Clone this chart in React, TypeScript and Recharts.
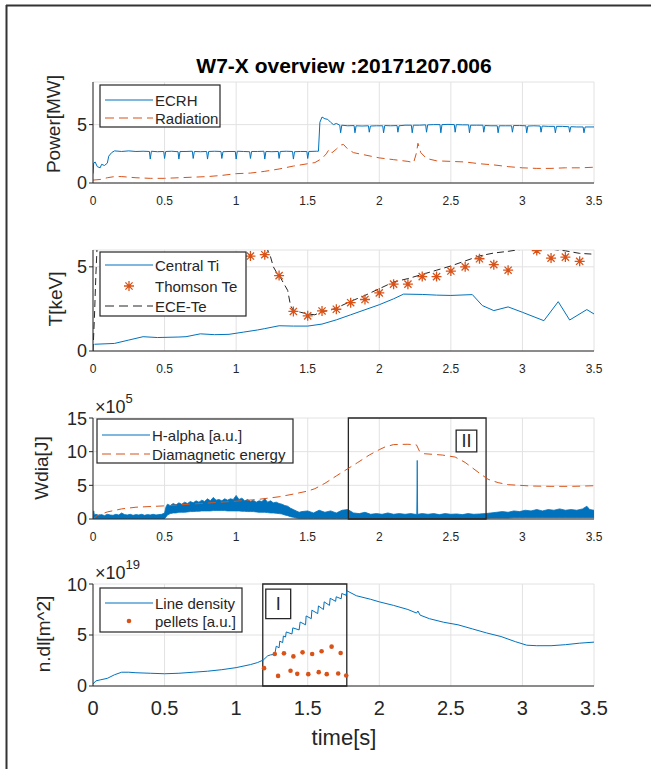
import React from 'react';
import {
  ComposedChart,
  Line,
  Area,
  Scatter,
  XAxis,
  YAxis,
  CartesianGrid,
  ReferenceArea,
} from 'recharts';

// ---------------------------------------------------------------------------
// Shot 20171207.006 overview signals (time in s)
// ---------------------------------------------------------------------------

const timeTicks = [0, 0.5, 1, 1.5, 2, 2.5, 3, 3.5];

// Heating power [MW]
const ecrh: [number, number][] = [
  [0, 0.8], [0.005, 1.7], [0.015, 1.8], [0.03, 1.4], [0.05, 1.3], [0.06, 1.6], [0.08, 1.5], [0.1, 1.7],
  [0.11, 2.3], [0.13, 2.6], [0.15, 2.75], [0.2, 2.7], [0.25, 2.75], [0.3, 2.7], [0.35, 2.72],
  [0.394, 2.7], [0.4, 2.05], [0.408, 2.72], [0.45, 2.68],
  [0.494, 2.7], [0.5, 2.1], [0.508, 2.7], [0.55, 2.72],
  [0.594, 2.68], [0.6, 2.05], [0.608, 2.7], [0.65, 2.7],
  [0.694, 2.72], [0.7, 2.1], [0.708, 2.7], [0.75, 2.68],
  [0.794, 2.7], [0.8, 2.05], [0.808, 2.7], [0.85, 2.72],
  [0.894, 2.7], [0.9, 2.1], [0.908, 2.68], [0.95, 2.7],
  [0.994, 2.7], [1.0, 2.05], [1.008, 2.72], [1.05, 2.7],
  [1.094, 2.68], [1.1, 2.1], [1.108, 2.7], [1.15, 2.7],
  [1.194, 2.72], [1.2, 2.05], [1.208, 2.7], [1.25, 2.68],
  [1.294, 2.7], [1.3, 2.1], [1.308, 2.7], [1.35, 2.72],
  [1.394, 2.7], [1.4, 2.05], [1.408, 2.68], [1.45, 2.7],
  [1.494, 2.7], [1.5, 2.1], [1.508, 2.7], [1.56, 2.72],
  [1.575, 2.72], [1.585, 5.2], [1.6, 5.65], [1.62, 5.5], [1.64, 5.45], [1.66, 5.2], [1.68, 5.0], [1.7, 5.1],
  [1.724, 4.95], [1.73, 4.3], [1.738, 4.95], [1.78, 4.9],
  [1.824, 4.92], [1.83, 4.3], [1.838, 4.9], [1.88, 4.88],
  [1.924, 4.9], [1.93, 4.35], [1.938, 4.88], [1.98, 4.9],
  [2.024, 4.9], [2.03, 4.3], [2.038, 4.92], [2.08, 4.9],
  [2.124, 4.92], [2.13, 4.35], [2.138, 4.9], [2.18, 4.95],
  [2.224, 4.95], [2.23, 4.3], [2.238, 4.95], [2.28, 4.95],
  [2.324, 4.98], [2.33, 4.35], [2.338, 4.98], [2.38, 5.0],
  [2.424, 5.0], [2.43, 4.3], [2.438, 5.0], [2.48, 5.02],
  [2.524, 5.0], [2.53, 4.35], [2.538, 5.0], [2.58, 4.98],
  [2.624, 4.98], [2.63, 4.3], [2.638, 4.95], [2.68, 4.95],
  [2.724, 4.95], [2.73, 4.35], [2.738, 4.92], [2.78, 4.9],
  [2.824, 4.9], [2.83, 4.3], [2.838, 4.9], [2.88, 4.9],
  [2.924, 4.9], [2.93, 4.35], [2.938, 4.92], [2.98, 4.92],
  [3.024, 4.9], [3.03, 4.3], [3.038, 4.88], [3.08, 4.9],
  [3.124, 4.88], [3.13, 4.35], [3.138, 4.88], [3.18, 4.85],
  [3.224, 4.85], [3.23, 4.3], [3.238, 4.85], [3.28, 4.85],
  [3.324, 4.82], [3.33, 4.35], [3.338, 4.82], [3.38, 4.8],
  [3.424, 4.8], [3.43, 4.3], [3.438, 4.8], [3.5, 4.8],
];

const radiation: [number, number][] = [
  [0, 0.25], [0.05, 0.3], [0.1, 0.45], [0.15, 0.55], [0.2, 0.55], [0.3, 0.45], [0.4, 0.4], [0.5, 0.4],
  [0.6, 0.45], [0.7, 0.5], [0.8, 0.55], [0.9, 0.65], [1.0, 0.8], [1.1, 0.85], [1.2, 1.0], [1.3, 1.2],
  [1.4, 1.45], [1.5, 1.65], [1.55, 1.75], [1.6, 2.1], [1.63, 2.5], [1.65, 2.9], [1.67, 2.6], [1.7, 2.9],
  [1.73, 3.25], [1.75, 3.3], [1.78, 2.9], [1.82, 2.6], [1.9, 2.4], [2.0, 2.15], [2.1, 2.0], [2.2, 1.85],
  [2.24, 1.75], [2.26, 2.6], [2.27, 3.4], [2.29, 2.6], [2.33, 2.1], [2.4, 1.9], [2.5, 1.85], [2.6, 1.8],
  [2.7, 1.65], [2.8, 1.55], [2.9, 1.4], [3.0, 1.3], [3.1, 1.25], [3.2, 1.25], [3.3, 1.3], [3.4, 1.3], [3.5, 1.35],
];

// Temperatures [keV]
const centralTi: [number, number][] = [
  [0.01, 0.4], [0.15, 0.45], [0.25, 0.65], [0.35, 0.85], [0.45, 0.8], [0.6, 0.83], [0.65, 0.85],
  [0.75, 1.02], [0.85, 0.97], [0.95, 0.99], [1.05, 1.12], [1.15, 1.25], [1.2, 1.33], [1.3, 1.5],
  [1.4, 1.48], [1.5, 1.48], [1.6, 1.6], [1.7, 1.85], [1.8, 2.15], [1.9, 2.45], [2.0, 2.75],
  [2.1, 3.1], [2.17, 3.38], [2.3, 3.36], [2.4, 3.32], [2.5, 3.3], [2.65, 3.35], [2.72, 2.7],
  [2.8, 2.4], [2.9, 2.62], [3.0, 2.3], [3.15, 1.8], [3.25, 2.93], [3.33, 1.84], [3.45, 2.46], [3.5, 2.2],
];

const thomsonTe: [number, number][] = [
  [1.1, 5.64], [1.2, 5.72], [1.3, 4.48], [1.4, 2.35], [1.5, 2.09], [1.6, 2.38], [1.7, 2.48],
  [1.8, 2.87], [1.9, 3.06], [2.0, 3.45], [2.1, 3.97], [2.2, 3.97], [2.3, 4.42], [2.4, 4.42],
  [2.5, 4.75], [2.6, 5.0], [2.7, 5.48], [2.8, 5.13], [2.9, 4.8], [3.1, 5.97], [3.2, 5.52],
  [3.3, 5.58], [3.4, 5.33],
];

const eceTe: [number, number][] = [
  [0.0, 0.0], [0.01, 2.0], [0.02, 4.5], [0.03, 6.5], [0.1, 7.0], [0.5, 7.0], [1.0, 7.0], [1.2, 6.5],
  [1.22, 6.0], [1.24, 5.6], [1.26, 5.0], [1.28, 4.7], [1.3, 4.5], [1.32, 4.2], [1.34, 3.9], [1.36, 3.6],
  [1.38, 2.7], [1.4, 2.4], [1.45, 2.3], [1.5, 2.2], [1.55, 2.15], [1.6, 2.35], [1.65, 2.4], [1.7, 2.55],
  [1.8, 2.95], [1.9, 3.3], [2.0, 3.7], [2.1, 4.1], [2.2, 4.3], [2.3, 4.55], [2.4, 4.8], [2.5, 5.05],
  [2.6, 5.35], [2.7, 5.65], [2.8, 5.82], [2.9, 5.92], [3.0, 6.05], [3.1, 6.1], [3.2, 6.05], [3.3, 5.95],
  [3.4, 5.8], [3.5, 5.75],
];

// H-alpha envelope [time, lower, upper] and diamagnetic energy, both in units of 1e5
const hAlpha: [number, number, number][] = [
  [0, 0.05, 0.3], [0.005, 0.05, 1.2], [0.01, 0.05, 0.6], [0.02, 0.05, 0.7], [0.04, 0.05, 0.55],
  [0.06, 0.05, 0.65], [0.08, 0.05, 0.5], [0.1, 0.05, 0.7], [0.12, 0.05, 0.6], [0.14, 0.05, 0.55],
  [0.16, 0.05, 0.7], [0.18, 0.05, 0.6], [0.2, 0.05, 0.9], [0.22, 0.05, 0.65], [0.24, 0.05, 0.6],
  [0.26, 0.05, 0.7], [0.28, 0.05, 0.55], [0.3, 0.05, 0.65], [0.32, 0.05, 0.6], [0.34, 0.05, 0.7],
  [0.36, 0.05, 0.55], [0.38, 0.05, 0.65], [0.4, 0.05, 0.6], [0.42, 0.05, 0.7], [0.44, 0.05, 0.6],
  [0.46, 0.05, 0.65], [0.48, 0.05, 0.7], [0.5, 0.05, 0.9],
  [0.51, 0.3, 1.8], [0.52, 0.6, 2.2], [0.54, 0.8, 2.0], [0.56, 0.9, 2.3], [0.58, 0.9, 2.1],
  [0.6, 1.0, 2.4], [0.62, 1.0, 2.2], [0.64, 1.0, 2.5], [0.66, 1.05, 2.3], [0.68, 1.1, 2.6],
  [0.7, 1.1, 2.4], [0.72, 1.15, 2.7], [0.74, 1.15, 2.5], [0.76, 1.2, 2.8], [0.78, 1.2, 2.6],
  [0.8, 1.2, 3.0], [0.82, 1.2, 2.7], [0.84, 1.25, 3.2], [0.86, 1.25, 2.8], [0.88, 1.25, 2.9],
  [0.9, 1.25, 2.7], [0.92, 1.25, 3.0], [0.94, 1.2, 2.8], [0.96, 1.2, 3.0], [0.98, 1.2, 2.9],
  [1.0, 1.2, 3.5], [1.02, 1.2, 2.9], [1.04, 1.15, 3.1], [1.06, 1.15, 2.7], [1.08, 1.1, 2.9],
  [1.1, 1.1, 2.6], [1.12, 1.1, 2.8], [1.14, 1.05, 2.5], [1.16, 1.0, 2.7], [1.18, 1.0, 2.6],
  [1.2, 1.0, 3.0], [1.22, 0.95, 2.5], [1.24, 0.9, 2.7], [1.26, 0.9, 2.4], [1.28, 0.85, 2.5],
  [1.3, 0.8, 2.3], [1.32, 0.75, 2.2], [1.34, 0.6, 2.0], [1.36, 0.5, 1.9], [1.38, 0.35, 1.6],
  [1.4, 0.25, 1.4], [1.42, 0.15, 1.2], [1.44, 0.1, 1.0], [1.46, 0.1, 1.1],
  [1.5, 0.1, 1.2], [1.54, 0.1, 0.9], [1.58, 0.1, 1.3], [1.62, 0.1, 1.0], [1.66, 0.1, 1.2],
  [1.7, 0.1, 0.9], [1.74, 0.1, 1.3], [1.78, 0.1, 1.4], [1.82, 0.1, 0.9], [1.86, 0.1, 0.8],
  [1.9, 0.1, 1.0], [1.94, 0.1, 0.7], [1.98, 0.1, 0.8], [2.02, 0.1, 0.7], [2.06, 0.1, 0.9],
  [2.1, 0.1, 0.7], [2.14, 0.1, 0.8], [2.18, 0.1, 0.7], [2.22, 0.1, 0.8], [2.25, 0.1, 0.7],
  [2.262, 0.1, 0.7], [2.265, 0.1, 8.7], [2.268, 0.1, 0.7], [2.3, 0.1, 0.8], [2.34, 0.1, 0.7],
  [2.38, 0.1, 0.8], [2.42, 0.1, 0.65], [2.46, 0.1, 0.8], [2.5, 0.1, 0.7], [2.54, 0.1, 0.75],
  [2.58, 0.1, 0.65], [2.62, 0.1, 0.8], [2.66, 0.1, 0.7], [2.7, 0.1, 0.75], [2.74, 0.1, 0.8],
  [2.78, 0.15, 0.9], [2.82, 0.15, 1.0], [2.86, 0.15, 1.1], [2.9, 0.15, 1.0], [2.94, 0.2, 1.2],
  [2.98, 0.2, 1.1], [3.02, 0.2, 1.3], [3.06, 0.2, 1.2], [3.1, 0.2, 1.4], [3.14, 0.2, 1.2],
  [3.18, 0.2, 1.4], [3.22, 0.2, 1.3], [3.26, 0.2, 1.5], [3.3, 0.2, 1.3], [3.34, 0.2, 1.4],
  [3.38, 0.2, 1.3], [3.42, 0.2, 1.5], [3.45, 0.2, 1.9], [3.47, 0.2, 1.4], [3.5, 0.2, 1.3],
];

const diamagnetic: [number, number][] = [
  [0, 0.05], [0.03, 0.5], [0.1, 1.05], [0.2, 1.5], [0.3, 1.75], [0.5, 1.95], [0.75, 2.3], [1.0, 2.65],
  [1.15, 2.9], [1.3, 3.3], [1.4, 3.7], [1.5, 4.15], [1.55, 4.5], [1.62, 5.3], [1.7, 6.4], [1.76, 7.2],
  [1.85, 8.4], [1.93, 9.5], [2.0, 10.3], [2.04, 10.7], [2.1, 11.05], [2.2, 11.1], [2.26, 11.0],
  [2.28, 10.1], [2.31, 9.7], [2.44, 9.5], [2.53, 9.2], [2.6, 8.4], [2.65, 7.6], [2.7, 6.8],
  [2.76, 5.9], [2.83, 5.4], [2.9, 5.1], [3.06, 4.9], [3.2, 4.85], [3.35, 4.85], [3.5, 4.94],
];

// Line-integrated density [1e19 m^-2] and pellet monitor
const lineDensity: [number, number][] = [
  [0, 0.2], [0.02, 0.5], [0.05, 0.6], [0.1, 0.75], [0.15, 1.1], [0.2, 1.35], [0.25, 1.35], [0.3, 1.3],
  [0.4, 1.25], [0.5, 1.2], [0.6, 1.25], [0.7, 1.35], [0.8, 1.45], [0.9, 1.6], [1.0, 1.8], [1.1, 2.1],
  [1.15, 2.3], [1.19, 2.55], [1.22, 2.95], [1.24, 3.05], [1.27, 3.1], [1.28, 3.9], [1.3, 3.75],
  [1.305, 4.4], [1.325, 4.25], [1.33, 4.9], [1.345, 4.8], [1.35, 5.3], [1.39, 5.1], [1.396, 5.7],
  [1.44, 5.5], [1.447, 6.27], [1.485, 6.0], [1.489, 6.87], [1.525, 6.6], [1.529, 7.43], [1.57, 7.1],
  [1.575, 7.85], [1.61, 7.5], [1.615, 8.25], [1.652, 7.9], [1.657, 8.6], [1.695, 8.3], [1.699, 8.75],
  [1.734, 8.55], [1.738, 9.07], [1.768, 8.9], [1.773, 9.34], [1.84, 8.85], [1.94, 8.5], [2.0, 8.25],
  [2.1, 7.9], [2.2, 7.5], [2.26, 7.15], [2.27, 7.35], [2.285, 6.95], [2.35, 6.6], [2.45, 6.25],
  [2.55, 6.0], [2.65, 5.6], [2.75, 5.2], [2.85, 4.85], [2.95, 4.35], [3.03, 4.0], [3.1, 3.95],
  [3.2, 3.95], [3.3, 4.05], [3.4, 4.2], [3.5, 4.3],
];

const pellets: [number, number][] = [
  [1.195, 1.75], [1.27, 3.13], [1.334, 3.2], [1.4, 2.9], [1.464, 3.3], [1.531, 3.13], [1.597, 3.4],
  [1.667, 3.86], [1.73, 3.23],
  [1.293, 0.99], [1.38, 1.49], [1.427, 1.19], [1.504, 1.16], [1.577, 1.36], [1.633, 1.16],
  [1.713, 1.22], [1.769, 1.03],
];

// ---------------------------------------------------------------------------

const BLUE = '#0072BD';
const ORANGE = '#D95319';
const AXIS = '#262626';
const GRID = '#e2e2e2';
const FONT = '"Liberation Sans", Arial, Helvetica, sans-serif';

const W = 651;
const PLOT_LEFT = 93;
const PLOT_RIGHT = 594;

const pts = (arr: [number, number][]) => arr.map(([t, v]) => ({ t, v }));
const bandPts = (arr: [number, number, number][]) => arr.map(([t, lo, hi]) => ({ t, band: [lo, hi] }));

const Asterisk = (props: any) => {
  const { cx, cy } = props;
  if (cx == null || cy == null) return null;
  const r = 5;
  const d = r * 0.72;
  return (
    <path
      d={`M${cx - r},${cy}H${cx + r}M${cx},${cy - r}V${cy + r}M${cx - d},${cy - d}L${cx + d},${cy + d}M${cx - d},${cy + d}L${cx + d},${cy - d}`}
      stroke={ORANGE}
      strokeWidth={1.3}
      fill="none"
    />
  );
};

const Dot = (props: any) => {
  const { cx, cy } = props;
  if (cx == null || cy == null) return null;
  return <circle cx={cx} cy={cy} r={2.3} fill={ORANGE} />;
};

type PanelProps = {
  plotTop: number;
  plotBottom: number;
  yDomain: [number, number];
  yTicks: number[];
  xTickFont: number;
  xTickMargin: number;
  children: React.ReactNode;
};

function Panel({ plotTop, plotBottom, yDomain, yTicks, xTickFont, xTickMargin, children }: PanelProps) {
  const mTop = 10;
  const xH = 40;
  const plotH = plotBottom - plotTop;
  return (
    <div style={{ position: 'absolute', left: 0, top: plotTop - mTop }}>
      <ComposedChart
        width={W}
        height={plotH + mTop + xH}
        margin={{ top: mTop, right: W - PLOT_RIGHT, bottom: 0, left: 0 }}
      >
        <CartesianGrid stroke={GRID} strokeWidth={1} />
        <XAxis
          type="number"
          dataKey="t"
          domain={[0, 3.5]}
          ticks={timeTicks}
          allowDataOverflow
          height={xH}
          tickSize={0}
          tickMargin={xTickMargin}
          tickLine={false}
          axisLine={{ stroke: AXIS, strokeWidth: 1 }}
          tick={{ fill: AXIS, fontSize: xTickFont, fontFamily: FONT }}
        />
        <XAxis
          xAxisId="box"
          orientation="top"
          type="number"
          domain={[0, 3.5]}
          ticks={timeTicks}
          height={0}
          tick={false}
          tickLine={false}
          axisLine={{ stroke: AXIS, strokeWidth: 1 }}
        />
        <YAxis
          type="number"
          domain={yDomain}
          ticks={yTicks}
          allowDataOverflow
          width={PLOT_LEFT}
          tickSize={4}
          tickMargin={2}
          tickLine={{ stroke: AXIS }}
          axisLine={{ stroke: AXIS, strokeWidth: 1 }}
          tick={{ fill: AXIS, fontSize: 18, fontFamily: FONT }}
        />
        <YAxis
          yAxisId="box"
          orientation="right"
          type="number"
          domain={yDomain}
          width={0}
          tick={false}
          tickLine={false}
          axisLine={{ stroke: AXIS, strokeWidth: 1 }}
        />
        {children}
      </ComposedChart>
    </div>
  );
}

type LegendRow = { label: string; kind: 'line' | 'dash' | 'blackdash' | 'star' | 'dot'; cy: number };

function LegendBox({ x, y, w, h, rows }: { x: number; y: number; w: number; h: number; rows: LegendRow[] }) {
  const s0 = x + 5;
  const s1 = x + 53;
  const sc = (s0 + s1) / 2;
  return (
    <g>
      <rect x={x} y={y} width={w} height={h} fill="#fff" stroke={AXIS} strokeWidth={1.2} />
      {rows.map((r) => (
        <g key={r.label}>
          {r.kind === 'line' && <line x1={s0} x2={s1} y1={r.cy} y2={r.cy} stroke={BLUE} strokeWidth={1.2} />}
          {r.kind === 'dash' && (
            <line x1={s0} x2={s1} y1={r.cy} y2={r.cy} stroke={ORANGE} strokeWidth={1.2} strokeDasharray="9 5" />
          )}
          {r.kind === 'blackdash' && (
            <line x1={s0} x2={s1} y1={r.cy} y2={r.cy} stroke={AXIS} strokeWidth={1.2} strokeDasharray="9 5" />
          )}
          {r.kind === 'star' && <Asterisk cx={sc} cy={r.cy} />}
          {r.kind === 'dot' && <circle cx={sc} cy={r.cy} r={2.3} fill={ORANGE} />}
          <text x={x + 55} y={r.cy} dominantBaseline="central" fontSize={15} fill={AXIS} fontFamily={FONT}>
            {r.label}
          </text>
        </g>
      ))}
    </g>
  );
}

function YLabel({ x, y, text }: { x: number; y: number; text: string }) {
  return (
    <text
      x={x}
      y={y}
      transform={`rotate(-90 ${x} ${y})`}
      textAnchor="middle"
      dominantBaseline="central"
      fontSize={19}
      fill={AXIS}
      fontFamily={FONT}
    >
      {text}
    </text>
  );
}

function Exponent({ x, y, exp }: { x: number; y: number; exp: string }) {
  return (
    <text x={x} y={y} fontSize={18} fill={AXIS} fontFamily={FONT}>
      ×10
      <tspan dy={-10} fontSize={13}>
        {exp}
      </tspan>
    </text>
  );
}

export default function App() {
  const boxStroke = { stroke: AXIS, strokeWidth: 1.3 };
  return (
    <div style={{ position: 'absolute', left: 0, top: 0, width: W, height: 769, background: '#fff', fontFamily: FONT }}>
      {/* Power */}
      <Panel plotTop={82} plotBottom={183} yDomain={[0, 8.65]} yTicks={[0, 5]} xTickFont={12} xTickMargin={13}>
        <Line data={pts(radiation)} dataKey="v" stroke={ORANGE} strokeWidth={1} strokeDasharray="8 5" dot={false} isAnimationActive={false} type="linear" />
        <Line data={pts(ecrh)} dataKey="v" stroke={BLUE} strokeWidth={1} dot={false} isAnimationActive={false} type="linear" />
      </Panel>

      {/* Temperatures */}
      <Panel plotTop={250} plotBottom={351} yDomain={[0, 6]} yTicks={[0, 5]} xTickFont={12} xTickMargin={13}>
        <Line data={pts(centralTi)} dataKey="v" stroke={BLUE} strokeWidth={1} dot={false} isAnimationActive={false} type="linear" />
        <Line data={pts(eceTe)} dataKey="v" stroke={AXIS} strokeWidth={1} strokeDasharray="7 4" dot={false} isAnimationActive={false} type="linear" />
        <Scatter data={pts(thomsonTe)} dataKey="v" shape={Asterisk} isAnimationActive={false} />
      </Panel>

      {/* Stored energy and H-alpha */}
      <Panel plotTop={418} plotBottom={519} yDomain={[0, 15]} yTicks={[0, 5, 10, 15]} xTickFont={12} xTickMargin={13}>
        <Area data={bandPts(hAlpha)} dataKey="band" stroke={BLUE} strokeWidth={0.8} fill={BLUE} fillOpacity={1} dot={false} isAnimationActive={false} type="linear" />
        <Line data={pts(diamagnetic)} dataKey="v" stroke={ORANGE} strokeWidth={1} strokeDasharray="8 5" dot={false} isAnimationActive={false} type="linear" />
        <ReferenceArea x1={1.784} x2={2.746} y1={0} y2={15} fill="none" fillOpacity={0} {...boxStroke} />
        <ReferenceArea
          x1={2.537}
          x2={2.681}
          y1={9.97}
          y2={13.2}
          fill="#fff"
          fillOpacity={1}
          {...boxStroke}
          label={{ value: 'II', position: 'center', fontSize: 18, fill: AXIS, fontFamily: FONT }}
        />
      </Panel>

      {/* Density */}
      <Panel plotTop={584} plotBottom={686} yDomain={[0, 10]} yTicks={[0, 5, 10]} xTickFont={20} xTickMargin={15}>
        <Line data={pts(lineDensity)} dataKey="v" stroke={BLUE} strokeWidth={1} dot={false} isAnimationActive={false} type="linear" />
        <Scatter data={pts(pellets)} dataKey="v" shape={Dot} isAnimationActive={false} />
        <ReferenceArea x1={1.186} x2={1.773} y1={0} y2={10} fill="none" fillOpacity={0} {...boxStroke} />
        <ReferenceArea
          x1={1.207}
          x2={1.381}
          y1={6.6}
          y2={9.5}
          fill="#fff"
          fillOpacity={1}
          {...boxStroke}
          label={{ value: 'I', position: 'center', fontSize: 18, fill: AXIS, fontFamily: FONT }}
        />
      </Panel>

      {/* Figure frame, titles and legends */}
      <svg width={W} height={769} style={{ position: 'absolute', left: 0, top: 0, pointerEvents: 'none' }}>
        <line x1={6.5} x2={6.5} y1={5} y2={769} stroke="#333" strokeWidth={2} />
        <line x1={6} x2={W} y1={5.5} y2={5.5} stroke="#333" strokeWidth={2} />

        <text x={344} y={65} textAnchor="middle" dominantBaseline="central" fontSize={21} fontWeight="bold" fill="#000" fontFamily={FONT}>
          W7-X overview :20171207.006
        </text>

        <YLabel x={53} y={124} text="Power[MW]" />
        <YLabel x={55} y={299} text="T[keV]" />
        <YLabel x={41} y={468} text="Wdia[J]" />
        <YLabel x={43} y={634} text="n.dl[m^2]" />

        <Exponent x={95} y={413} exp="5" />
        <Exponent x={95} y={579} exp="19" />

        <text x={344} y={737} textAnchor="middle" dominantBaseline="central" fontSize={22} fill={AXIS} fontFamily={FONT}>
          time[s]
        </text>

        <LegendBox
          x={100}
          y={85}
          w={120}
          h={42}
          rows={[
            { label: 'ECRH', kind: 'line', cy: 100 },
            { label: 'Radiation', kind: 'dash', cy: 118 },
          ]}
        />
        <LegendBox
          x={100}
          y={252}
          w={146}
          h={64}
          rows={[
            { label: 'Central Ti', kind: 'line', cy: 265 },
            { label: 'Thomson Te', kind: 'star', cy: 286 },
            { label: 'ECE-Te', kind: 'blackdash', cy: 306 },
          ]}
        />
        <LegendBox
          x={97}
          y={419}
          w={196}
          h={44}
          rows={[
            { label: 'H-alpha [a.u.]', kind: 'line', cy: 435 },
            { label: 'Diamagnetic energy', kind: 'dash', cy: 454 },
          ]}
        />
        <LegendBox
          x={100}
          y={588}
          w={142}
          h={44}
          rows={[
            { label: 'Line density', kind: 'line', cy: 603 },
            { label: 'pellets [a.u.]', kind: 'dot', cy: 621 },
          ]}
        />
      </svg>
    </div>
  );
}
